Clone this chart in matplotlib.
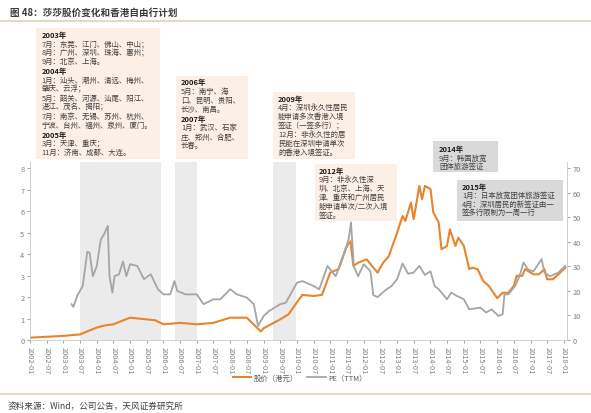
import matplotlib
matplotlib.use("Agg")
import matplotlib.pyplot as plt
import matplotlib.dates as mdates
from matplotlib.patches import Rectangle
from matplotlib.lines import Line2D
import pandas as pd

plt.rcParams['font.family'] = ['Noto Sans CJK SC', 'DejaVu Sans']

# 股价（港元）, left axis
price_dates = ["2002-01-01", "2002-07-01", "2003-01-01", "2003-07-01", "2003-10-01",
               "2004-01-01", "2004-04-01", "2004-07-01", "2004-10-01", "2005-01-01",
               "2005-04-01", "2005-07-01", "2005-10-01", "2006-01-01", "2006-07-01",
               "2007-01-01", "2007-07-01", "2008-01-01", "2008-07-01", "2008-10-01",
               "2008-12-01", "2009-01-01", "2009-07-01", "2009-10-01", "2010-01-01",
               "2010-03-01", "2010-07-01", "2010-10-01", "2011-01-01", "2011-04-01",
               "2011-07-01", "2011-08-10", "2011-09-10", "2011-11-01", "2012-02-01",
               "2012-04-01", "2012-06-01", "2012-08-01", "2012-10-01", "2013-01-01",
               "2013-03-01", "2013-04-01", "2013-06-01", "2013-07-01", "2013-09-01",
               "2013-10-01", "2013-11-01", "2014-01-01", "2014-02-01", "2014-04-01",
               "2014-05-01", "2014-07-01", "2014-08-01", "2014-10-01", "2014-11-01",
               "2015-01-01", "2015-03-01", "2015-04-01", "2015-06-01", "2015-08-01",
               "2015-10-01", "2016-01-01", "2016-03-01", "2016-05-01", "2016-07-01",
               "2016-08-01", "2016-10-01", "2016-11-01", "2017-02-01", "2017-04-01",
               "2017-06-01", "2017-07-01", "2017-09-01", "2017-11-01", "2018-01-15"]
price_hkd = [0.11, 0.15, 0.19, 0.26, 0.42,
             0.58, 0.68, 0.73, 0.89, 1.04,
             1.00, 0.96, 0.92, 0.73, 0.80,
             0.73, 0.80, 1.04, 1.04, 0.65,
             0.40, 0.55, 0.96, 1.20, 1.76,
             2.10, 2.05, 2.10, 3.15, 3.30,
             4.38, 4.60, 3.45, 3.60, 3.76,
             3.45, 3.14, 3.60, 3.90, 5.00,
             5.78, 5.55, 6.40, 5.63, 7.18,
             6.56, 7.18, 7.03, 5.94, 5.47,
             4.23, 4.38, 5.16, 4.38, 4.77,
             4.38, 3.30, 3.37, 3.30, 2.75,
             2.52, 1.95, 2.20, 2.20, 2.52,
             2.99, 2.99, 3.30, 3.06, 3.06,
             3.30, 2.83, 2.83, 3.06, 3.37]

# PE（TTM）, right axis
pe_dates = ["2003-04-01", "2003-04-20", "2003-06-01", "2003-08-01", "2003-09-20",
            "2003-10-15", "2003-11-20", "2004-01-01", "2004-02-15", "2004-03-20",
            "2004-05-01", "2004-05-20", "2004-06-20", "2004-07-15", "2004-09-01",
            "2004-10-15", "2004-11-20", "2005-01-01", "2005-03-20", "2005-06-01",
            "2005-08-15", "2005-11-01", "2006-01-01", "2006-03-15", "2006-05-01",
            "2006-06-01", "2006-09-01", "2007-01-01", "2007-03-15", "2007-07-01",
            "2007-09-15", "2008-01-01", "2008-03-15", "2008-07-01", "2008-09-15",
            "2008-11-01", "2009-01-01", "2009-03-01", "2009-07-01", "2009-09-01",
            "2010-01-01", "2010-03-01", "2010-07-01", "2010-09-01", "2010-12-01",
            "2011-03-01", "2011-06-01", "2011-07-20", "2011-08-15", "2011-09-15",
            "2011-11-01", "2012-01-01", "2012-03-15", "2012-04-15", "2012-06-01",
            "2012-09-01", "2012-11-01", "2013-01-01", "2013-03-01", "2013-05-01",
            "2013-07-01", "2013-09-01", "2013-11-01", "2014-01-01", "2014-02-15",
            "2014-04-01", "2014-07-01", "2014-08-15", "2014-10-15", "2015-01-01",
            "2015-03-01", "2015-07-01", "2015-09-01", "2015-11-01", "2016-01-15",
            "2016-03-01", "2016-03-20", "2016-05-01", "2016-07-15", "2016-09-01",
            "2016-10-15", "2016-12-01", "2017-02-01", "2017-05-01", "2017-06-01",
            "2017-08-01", "2017-11-01", "2018-01-15"]
pe_ttm = [14.6, 13.5, 18.0, 22.0, 36.0,
          35.6, 26.0, 30.0, 41.0, 43.0,
          46.5, 26.0, 19.3, 26.0, 26.8,
          32.0, 26.0, 30.9, 30.2, 24.8,
          26.8, 20.7, 18.6, 18.6, 24.0,
          20.0, 18.6, 18.6, 14.6, 16.6,
          16.6, 20.7, 18.6, 17.3, 14.6,
          5.7, 9.8, 11.8, 14.6, 15.2,
          23.4, 24.0, 22.0, 20.7, 30.2,
          26.0, 35.6, 41.0, 48.0, 30.0,
          26.0, 30.9, 28.0, 18.3, 17.5,
          20.5, 22.0, 24.8, 31.2, 27.0,
          27.5, 30.2, 26.5, 28.0, 22.0,
          20.7, 16.6, 19.3, 18.0, 16.6,
          12.5, 13.2, 11.2, 12.5, 9.8,
          10.5, 18.6, 18.6, 22.0, 26.0,
          31.6, 28.8, 28.0, 33.0, 27.5,
          26.0, 27.5, 30.2]

shade_periods = [("2003-07-01", "2005-12-10"),
                 ("2006-05-10", "2007-01-01"),
                 ("2009-04-10", "2009-12-20")]

box_2003 = [("2003年", True), ("7月：东莞、江门、佛山、中山；", False),
            ("8月：广州、深圳、珠海、惠州；", False), ("9月：北京、上海。", False),
            ("2004年", True), ("1月：汕头、潮州、清远、梅州、", False),
            ("肇庆、云浮；", False), ("5月：韶关、河源、汕尾、阳江、", False),
            ("湛江、茂名、揭阳；", False), ("7月：南京、无锡、苏州、杭州、", False),
            ("宁波、台州、福州、泉州、厦门。", False), ("2005年", True),
            ("3月：天津、重庆；", False), ("11月：济南、成都、大连。", False)]
box_2006 = [("2006年", True), ("5月：南宁、海", False), ("口、昆明、贵阳、", False),
            ("长沙、南昌。", False), ("2007年", True), ("1月：武汉、石家", False),
            ("庄、郑州、合肥、", False), ("长春。", False)]
box_2009 = [("2009年", True), ("4月：深圳永久性居民", False), ("能申请多次香港入境", False),
            ("签证（一签多行）；", False), ("12月：非永久性的居", False),
            ("民能在深圳申请单次", False), ("的香港入境签证。", False)]
box_2012 = [("2012年", True), ("9月：非永久性深", False), ("圳、北京、上海、天", False),
            ("津、重庆和广州居民", False), ("能申请单次/二次入境", False), ("签证。", False)]
box_2014 = [("2014年", True), ("9月：韩国放宽", False), ("团体旅游签证", False)]
box_2015 = [("2015年", True), ("1月：日本放宽团体旅游签证", False),
            ("4月：深圳居民的新签证由一", False), ("签多行限制为一周一行", False)]

W, H = 591, 414
ORANGE = '#e8842c'
GREY = '#a5a5a5'
TICK = '#7f7f7f'

fig = plt.figure(figsize=(W / 100, H / 100), dpi=100)

# axes placed in pixel terms: left 30, right 567, top 163, bottom 341
ax = fig.add_axes([30 / W, 1 - 341 / H, 537 / W, 178 / H])
ax2 = ax.twinx()

for s, e in shade_periods:
    ax.axvspan(pd.Timestamp(s), pd.Timestamp(e), color='#ebebeb', lw=0, zorder=0)

ax.plot(pd.to_datetime(price_dates), price_hkd, color=ORANGE, lw=1.5, zorder=3)
ax2.plot(pd.to_datetime(pe_dates), pe_ttm, color=GREY, lw=1.3, zorder=2)

ax.set_xlim(pd.Timestamp("2002-01-01"), pd.Timestamp("2018-02-03"))
ax.set_ylim(0, 8 * 178 / 171.7)
ax2.set_ylim(0, 70 * 178 / 171.7)
ax.set_yticks(range(0, 9))
ax2.set_yticks(range(0, 71, 10))

ax.xaxis.set_major_locator(mdates.MonthLocator(bymonth=[1, 7]))
ax.xaxis.set_major_formatter(mdates.DateFormatter('%Y-%m'))
for lab in ax.get_xticklabels():
    lab.set_rotation(-90)

for a in (ax, ax2):
    a.tick_params(labelsize=5.3, colors=TICK, length=2, width=0.5, pad=2)
    a.spines['top'].set_visible(False)
    for sp in ('left', 'right', 'bottom'):
        a.spines[sp].set_color('#d0d0d0')
        a.spines[sp].set_linewidth(0.6)
ax2.patch.set_visible(False)


def fx(x):
    return x / W


def fy(y):
    return 1 - y / H


def draw_box(x0, y0, x1, y1, lines, tx, ty, step, face, size=5.35):
    fig.add_artist(Rectangle((fx(x0), fy(y1)), (x1 - x0) / W, (y1 - y0) / H,
                             transform=fig.transFigure, facecolor=face,
                             edgecolor='none', zorder=5))
    for i, (txt, bold) in enumerate(lines):
        fig.text(fx(tx), fy(ty + i * step), txt, fontsize=size, ha='left', va='center',
                 fontweight='bold' if bold else 'normal',
                 color='#1a1a1a' if bold else '#404040', zorder=6)


PEACH = '#fcefe6'
BOXGREY = '#d9d9d9'
draw_box(36, 29, 160, 160, box_2003, 41.5, 35, 9.1, PEACH)
draw_box(176, 77, 248, 160, box_2006, 181, 82.7, 9.1, PEACH)
draw_box(273, 93, 355, 160, box_2009, 278, 99.3, 9.0, PEACH)
draw_box(315, 165, 397, 222, box_2012, 319, 171, 9.0, PEACH)
draw_box(433, 142, 498, 173, box_2014, 439, 149.3, 9.0, BOXGREY)
draw_box(457, 181, 563, 222, box_2015, 462, 187.3, 8.7, BOXGREY)

# header / footer
fig.text(fx(10), fy(13), "图 48：莎莎股价变化和香港自由行计划", fontsize=6.9,
         fontweight='bold', color='#3a3a3a', ha='left', va='center')
fig.add_artist(Line2D([0, 1], [fy(22), fy(22)], transform=fig.transFigure,
                      color='#e4d9c4', lw=1.5))
fig.add_artist(Line2D([0, 1], [fy(395), fy(395)], transform=fig.transFigure,
                      color='#e4d9c4', lw=1.5))
fig.text(fx(8), fy(406), "资料来源：Wind，公司公告，天风证券研究所", fontsize=6.2,
         color='#404040', ha='left', va='center')

handles = [Line2D([], [], color=ORANGE, lw=1.5), Line2D([], [], color=GREY, lw=1.3)]
fig.legend(handles, ["股价（港元）", "PE（TTM）"], loc='center',
           bbox_to_anchor=(fx(300), fy(379)), ncol=2, frameon=False, fontsize=5.3,
           handlelength=2.5, columnspacing=1.2, handletextpad=0.4, labelcolor='#595959')

fig.savefig('out.png', dpi=100)
